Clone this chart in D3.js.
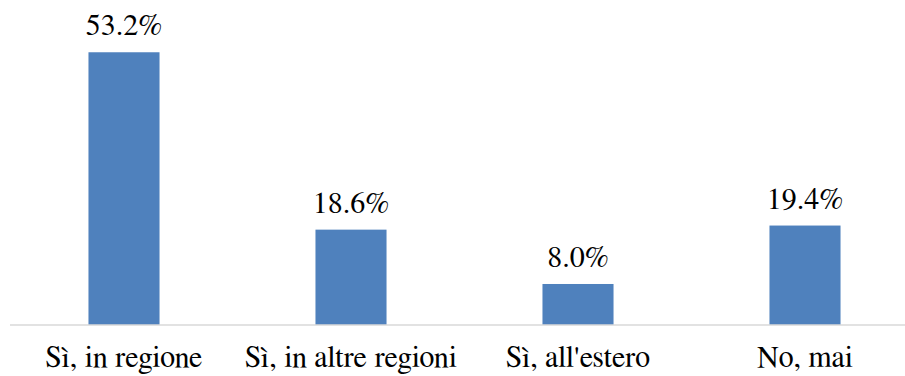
<!DOCTYPE html>
<html>
<head>
<meta charset="utf-8">
<script src="https://cdn.jsdelivr.net/npm/d3@7"></script>
<style>
  html, body { margin: 0; padding: 0; background: #fff; }
  svg { display: block; }
</style>
</head>
<body>
<svg id="chart" width="905" height="376"></svg>
<script>
const categories = ["Sì, in regione", "Sì, in altre regioni", "Sì, all'estero", "No, mai"];
const values = [53.2, 18.6, 8.0, 19.4];
const valueLabels = ["53.2%", "18.6%", "8.0%", "19.4%"];

const FONT = "'FreeSerif', 'Liberation Serif', serif";

const svg = d3.select("#chart");
const baseline = 325;

const x = d3.scaleBand()
  .domain(categories)
  .range([10.5, 918.5])
  .paddingInner(0.687)
  .paddingOuter(0.3435);

const y = d3.scaleLinear()
  .domain([0, 60])
  .range([baseline, 17.4]);

// bars
svg.append("g")
  .selectAll("rect")
  .data(categories)
  .join("rect")
  .attr("x", d => x(d))
  .attr("width", x.bandwidth())
  .attr("y", (d, i) => y(values[i]))
  .attr("height", (d, i) => baseline - y(values[i]))
  .attr("fill", "#4f81bd");

// category axis line
svg.append("line")
  .attr("x1", 10).attr("x2", 905)
  .attr("y1", baseline).attr("y2", baseline)
  .attr("stroke", "#d9d9d9")
  .attr("stroke-width", 1.5);

// category labels
svg.append("g")
  .selectAll("text")
  .data(categories)
  .join("text")
  .attr("x", d => x(d) + x.bandwidth() / 2)
  .attr("y", 367)
  .attr("text-anchor", "middle")
  .style("font-family", FONT)
  .style("font-size", "30px")
  .attr("fill", "#000")
  .text(d => d);

// value labels
svg.append("g")
  .selectAll("text")
  .data(categories)
  .join("text")
  .attr("x", d => x(d) + x.bandwidth() / 2)
  .attr("y", (d, i) => y(values[i]) - 17)
  .attr("text-anchor", "middle")
  .style("font-family", FONT)
  .style("font-size", "30px")
  .attr("fill", "#000")
  .text((d, i) => valueLabels[i]);
</script>
</body>
</html>
